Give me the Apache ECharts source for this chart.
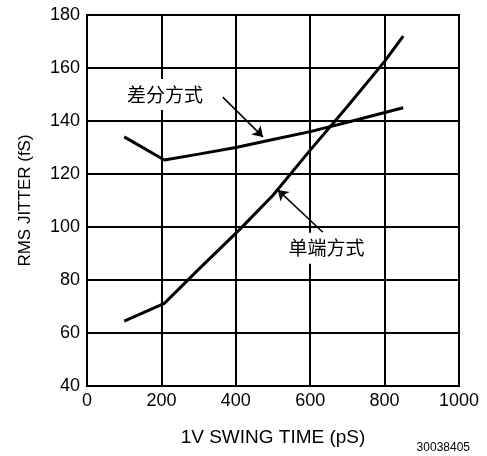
<!DOCTYPE html>
<html>
<head>
<meta charset="utf-8">
<script src="https://cdn.jsdelivr.net/npm/echarts@6/dist/echarts.min.js"></script>
<style>
  html, body { margin: 0; padding: 0; background: #fff; }
  #chart { width: 487px; height: 456px; }
</style>
</head>
<body>
<div id="chart"></div>
<script>
// values
const diffData = [[100, 134], [208, 125.3], [300, 127.5], [400, 130], [500, 133], [600, 136], [700, 139.5], [850, 145]];
const singleData = [[100, 64.5], [208, 71.2], [300, 84], [410, 99], [500, 112], [600, 129], [700, 145.5], [800, 162.5], [850, 172]];
const diffLabel = '差分方式';
const singleLabel = '单端方式';
// annotation anchors (data coords)
const diffText = [210, 150];
const diffArrow = [[365, 149], [473, 134]];
const singleText = [644, 92];
const singleArrow = [[634, 98], [513, 114]];

const font = '"Liberation Sans", Arial, sans-serif';
const cjk = '"Noto Sans CJK SC", sans-serif';

function textMark(coord, text) {
    return {
        coord: coord,
        symbol: 'rect',
        symbolSize: 1,
        itemStyle: { color: 'rgba(0,0,0,0)' },
        label: {
            show: true,
            position: 'inside',
            formatter: text,
            color: '#000',
            fontSize: 19,
            fontFamily: cjk,
            backgroundColor: '#fff',
            padding: [6, 10]
        }
    };
}

const chart = echarts.init(document.getElementById('chart'));
chart.setOption({
    animation: false,
    grid: {
        left: 87, right: 28, top: 15, bottom: 70,
        show: true, borderColor: '#000', borderWidth: 2
    },
    xAxis: {
        type: 'value', min: 0, max: 1000, interval: 200,
        name: '1V SWING TIME (pS)', nameLocation: 'middle', nameGap: 42,
        nameTextStyle: { fontSize: 19, fontFamily: font, color: '#000' },
        axisLine: { lineStyle: { color: '#000', width: 2 } },
        axisTick: { show: false },
        axisLabel: { fontSize: 18, fontFamily: font, color: '#000', margin: 6, formatter: v => String(v) },
        splitLine: { lineStyle: { color: '#000', width: 2 } }
    },
    yAxis: {
        type: 'value', min: 40, max: 180, interval: 20,
        name: 'RMS JITTER (fS)', nameLocation: 'middle', nameGap: 53,
        nameTextStyle: { fontSize: 17, fontFamily: font, color: '#000' },
        axisLine: { lineStyle: { color: '#000', width: 2 } },
        axisTick: { show: false },
        axisLabel: { fontSize: 18, fontFamily: font, color: '#000', margin: 7 },
        splitLine: { lineStyle: { color: '#000', width: 2 } }
    },
    series: [{
        type: 'line',
        data: diffData,
        showSymbol: false,
        lineStyle: { color: '#000', width: 3 },
        markPoint: { data: [textMark(diffText, diffLabel)] },
        markLine: {
            symbol: ['none', 'arrow'],
            symbolSize: 10,
            label: { show: false },
            lineStyle: { color: '#000', width: 1.5, type: 'solid' },
            data: [[{ coord: diffArrow[0] }, { coord: diffArrow[1] }]]
        }
    }, {
        type: 'line',
        data: singleData,
        showSymbol: false,
        lineStyle: { color: '#000', width: 3 },
        markPoint: { data: [textMark(singleText, singleLabel)] },
        markLine: {
            symbol: ['none', 'arrow'],
            symbolSize: 10,
            label: { show: false },
            lineStyle: { color: '#000', width: 1.5, type: 'solid' },
            data: [[{ coord: singleArrow[0] }, { coord: singleArrow[1] }]]
        }
    }],
    graphic: [{
        type: 'text', right: 17, bottom: 2,
        style: { text: '30038405', fontSize: 12, fontFamily: font, fill: '#000' }
    }]
});
</script>
</body>
</html>
